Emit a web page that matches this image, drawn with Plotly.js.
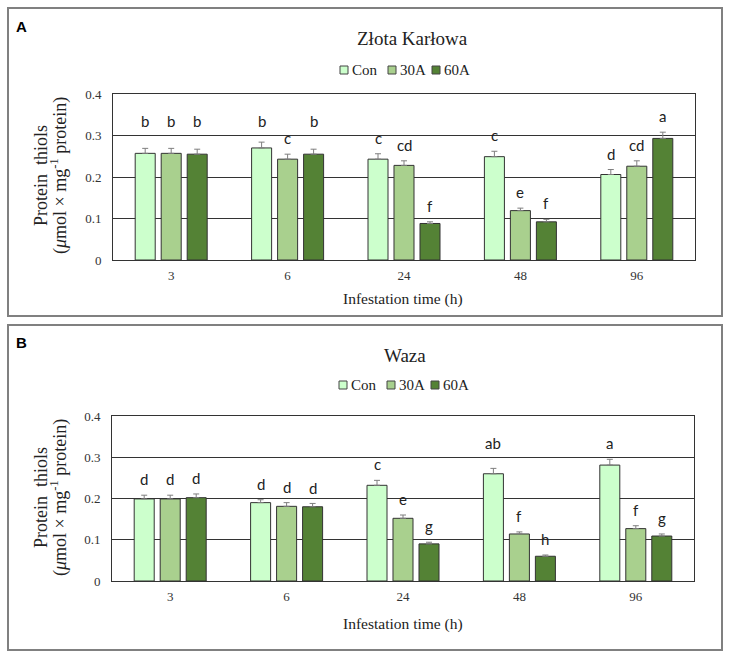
<!DOCTYPE html>
<html>
<head>
<meta charset="utf-8">
<script src="https://cdn.plot.ly/plotly-3.0.1.min.js"></script>
<style>html,body{margin:0;padding:0;background:#fff;}#chart{width:731px;height:657px;}</style>
</head>
<body>
<div id="chart"></div>
<script>
// ---- data ----
const times = ["3", "6", "24", "48", "96"];
const seriesNames = ["Con", "30A", "60A"];

// Panel A: Złota Karłowa
const zkCon = [0.257, 0.270, 0.243, 0.249, 0.206];
const zk30A = [0.257, 0.243, 0.228, 0.119, 0.226];
const zk60A = [0.255, 0.255, 0.088, 0.092, 0.293];
const zkConErr = [0.012, 0.014, 0.013, 0.013, 0.012];
const zk30AErr = [0.012, 0.012, 0.011, 0.006, 0.013];
const zk60AErr = [0.012, 0.012, 0.004, 0.006, 0.015];
const zkConLetters = ["b", "b", "c", "c", "d"];
const zk30ALetters = ["b", "c", "cd", "e", "cd"];
const zk60ALetters = ["b", "b", "f", "f", "a"];

// Panel B: Waza
const wzCon = [0.199, 0.190, 0.232, 0.260, 0.281];
const wz30A = [0.199, 0.181, 0.152, 0.114, 0.127];
const wz60A = [0.202, 0.180, 0.090, 0.060, 0.109];
const wzConErr = [0.009, 0.007, 0.012, 0.013, 0.014];
const wz30AErr = [0.009, 0.009, 0.008, 0.005, 0.007];
const wz60AErr = [0.009, 0.008, 0.004, 0.003, 0.005];
const wzConLetters = ["d", "d", "c", "ab", "a"];
const wz30ALetters = ["d", "d", "e", "f", "f"];
const wz60ALetters = ["d", "d", "g", "h", "g"];

const yTicks = [0, 0.1, 0.2, 0.3, 0.4];
const yTickText = ["0", "0.1", "0.2", "0.3", "0.4"];

// ---- styling ----
const colors = ["#ccffcc", "#a9d08e", "#548235"];
const W = 731, H = 657;
const px = x => x / W;
const py = y => 1 - y / H;
const serif = "Liberation Serif, Times New Roman, serif";

function makeTraces(vals, errs, xa, ya) {
  return vals.map((v, i) => ({
    type: "bar",
    name: seriesNames[i],
    x: times,
    y: v,
    xaxis: xa,
    yaxis: ya,
    showlegend: false,
    marker: { color: colors[i], line: { color: "#333333", width: 1 } },
    error_y: {
      type: "data", symmetric: false, array: errs[i],
      arrayminus: v.map(() => 0), color: "#7f7f7f", thickness: 1, width: 3
    },
    hoverinfo: "x+y"
  }));
}

const traces = [
  ...makeTraces([zkCon, zk30A, zk60A], [zkConErr, zk30AErr, zk60AErr], "x", "y"),
  ...makeTraces([wzCon, wz30A, wz60A], [wzConErr, wz30AErr, wz60AErr], "x2", "y2")
];

function letterAnnotations(vals, errs, letters, xref, yref) {
  const out = [];
  const shifts = [-26, 0, 26];
  vals.forEach((v, s) => {
    v.forEach((val, k) => {
      let y = val + errs[s][k] + 0.012;
      // keep the letter clear of the 0.3 gridline
      if (y > 0.278 && y < 0.302) y = 0.308;
      out.push({
        xref: xref, yref: yref, x: k, y: y, xshift: shifts[s],
        text: letters[s][k], showarrow: false, xanchor: "center", yanchor: "bottom",
        font: { family: "Lato, Open Sans, sans-serif", size: 15, color: "#222" }
      });
    });
  });
  return out;
}

const axisCommon = {
  showline: true, mirror: true, linecolor: "#333", linewidth: 1,
  zeroline: false, fixedrange: true
};
const xCommon = Object.assign({}, axisCommon, {
  type: "category", autorange: false, range: [-0.5, 4.5], showgrid: false,
  ticks: "outside", ticklen: 3,
  tickcolor: "rgba(0,0,0,0)", tickfont: { family: serif, size: 13, color: "#333" }
});
const yCommon = Object.assign({}, axisCommon, {
  autorange: false, range: [0, 0.4], tickvals: yTicks, ticktext: yTickText,
  showgrid: true, gridcolor: "#333", gridwidth: 1,
  ticks: "outside", ticklen: 8, tickcolor: "rgba(0,0,0,0)",
  tickfont: { family: serif, size: 13, color: "#333" }
});

function txt(x, y, text, font, extra) {
  return Object.assign({ xref: "paper", yref: "paper", x: px(x), y: py(y), text: text,
    showarrow: false, xanchor: "center", yanchor: "middle", font: font }, extra || {});
}
const serifFont = (s) => ({ family: serif, size: s, color: "#222" });
const boldSans = { family: "Liberation Sans, Arial, sans-serif", size: 15, color: "#000" };

// custom legends (items: square + label)
function legendItems(x0, yc) {
  const starts = [x0, x0 + 48, x0 + 92];
  const shapes = [], anns = [];
  seriesNames.forEach((n, i) => {
    const sx = starts[i];
    shapes.push({ type: "rect", xref: "paper", yref: "paper",
      x0: px(sx), x1: px(sx + 8), y0: py(yc + 4), y1: py(yc - 4),
      fillcolor: colors[i], line: { color: "#444", width: 1 } });
    anns.push(txt(sx + 10, yc, n, serifFont(15), { xanchor: "left" }));
  });
  return { shapes, anns };
}
const legA = legendItems(340, 70);
const legB = legendItems(339, 385);

const yTitle1 = "Protein  thiols";
const yTitle2 = "(<i>μ</i>mol × mg<sup>-1</sup> protein)";

const annotations = [
  txt(21, 26, "<b>A</b>", boldSans),
  txt(21, 342, "<b>B</b>", boldSans),
  txt(412, 38, "Złota Karłowa", serifFont(19)),
  txt(405, 355, "Waza", serifFont(19)),
  txt(403, 299, "Infestation time (h)", serifFont(15.5)),
  txt(403, 624, "Infestation time (h)", serifFont(15.5)),
  txt(41, 176, yTitle1, serifFont(18), { textangle: -90 }),
  txt(59, 176, yTitle2, serifFont(18), { textangle: -90 }),
  txt(41, 498, yTitle1, serifFont(18), { textangle: -90 }),
  txt(59, 498, yTitle2, serifFont(18), { textangle: -90 }),
  ...legA.anns, ...legB.anns,
  ...letterAnnotations([zkCon, zk30A, zk60A], [zkConErr, zk30AErr, zk60AErr],
                       [zkConLetters, zk30ALetters, zk60ALetters], "x", "y"),
  ...letterAnnotations([wzCon, wz30A, wz60A], [wzConErr, wz30AErr, wz60AErr],
                       [wzConLetters, wz30ALetters, wz60ALetters], "x2", "y2")
];

const layout = {
  width: W, height: H,
  margin: { l: 0, r: 0, t: 0, b: 0 },
  paper_bgcolor: "#fff", plot_bgcolor: "#fff",
  barmode: "group", bargap: 0.33, bargroupgap: 0.23,
  showlegend: false,
  xaxis: Object.assign({}, xCommon, { domain: [px(113), px(695)], anchor: "y" }),
  yaxis: Object.assign({}, yCommon, { domain: [py(260), py(94)], anchor: "x" }),
  xaxis2: Object.assign({}, xCommon, { domain: [px(112), px(694)], anchor: "y2" }),
  yaxis2: Object.assign({}, yCommon, { domain: [py(581), py(416)], anchor: "x2" }),
  shapes: [
    { type: "rect", xref: "paper", yref: "paper", x0: px(8), x1: px(722), y0: py(316), y1: py(8),
      line: { color: "#808080", width: 2 } },
    { type: "rect", xref: "paper", yref: "paper", x0: px(8), x1: px(722), y0: py(650), y1: py(325),
      line: { color: "#808080", width: 2 } },
    ...legA.shapes, ...legB.shapes
  ],
  annotations: annotations
};

Plotly.newPlot("chart", traces, layout, { displayModeBar: false, staticPlot: true });
</script>
</body>
</html>
